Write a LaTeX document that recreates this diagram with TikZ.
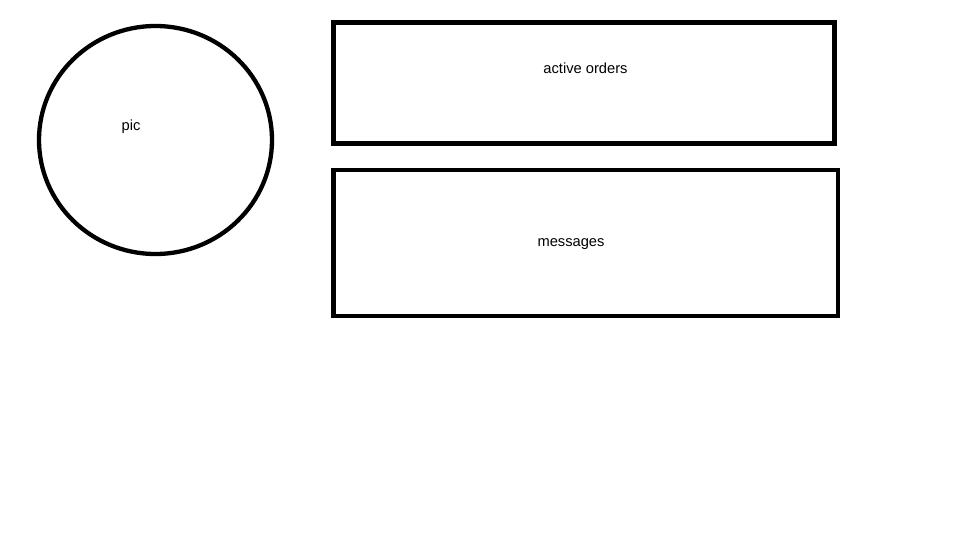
\documentclass[tikz,border=0pt]{standalone}
\usepackage{fontspec}
\setmainfont{Liberation Sans}
\usepackage{tikz}
\usetikzlibrary{shapes.geometric}

\tikzset{
  box/.style={draw,line width=4.5pt,rectangle,inner sep=0pt,outer sep=0pt},
  blob/.style={draw,line width=4.3pt,ellipse,inner sep=0pt,outer sep=0pt},
  lbl/.style={anchor=base,inner sep=0pt,font=\fontsize{14.7}{17}\selectfont}
}

\begin{document}
\begin{tikzpicture}[x=1pt,y=-1pt]
            \useasboundingbox (0,0) rectangle (960,540);
            \node[blob,minimum width=233pt,minimum height=228pt] (pic) at (155.5,140) {};
            \node[box,minimum width=501pt,minimum height=121pt] (orders) at (584,83) {};
            \node[box,minimum width=504.5pt,minimum height=146pt] (msgs) at (585.75,243) {};
            \node[lbl] (piclbl) at (131,131) {pic};
            \node[lbl] (orderslbl) at (585.5,74) {active orders};
            \node[lbl] (msgslbl) at (571,246) {messages};
        \end{tikzpicture}
\end{document}
